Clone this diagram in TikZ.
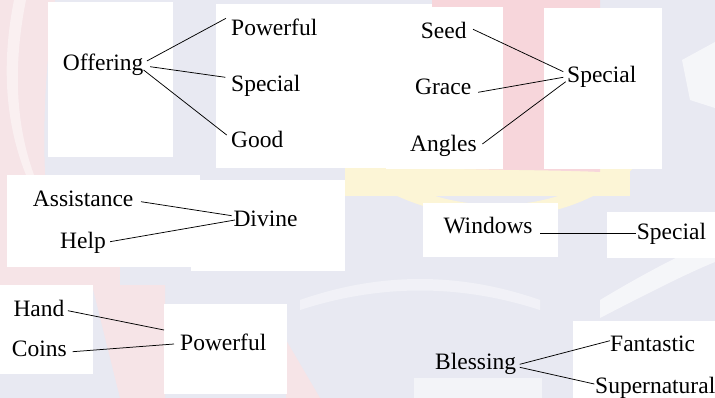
\documentclass[tikz,border=0pt]{standalone}
\usepackage{fontspec}
\setmainfont{Liberation Serif}
\definecolor{bgbase}{HTML}{E8E9F2}
\definecolor{wpink}{HTML}{F7D6DB}
\definecolor{wpinkl}{HTML}{F6E4E7}
\definecolor{wyellow}{HTML}{FCF5D6}
\begin{document}
\begin{tikzpicture}[x=1pt,y=-1pt,
  lbl/.style={inner sep=0pt, anchor=base west, font=\fontsize{23.5}{28}\selectfont},
  wbox/.style={fill=white, draw=none},
  link/.style={line width=0.75pt, black}]
\useasboundingbox (0,0) rectangle (715,398);
% ---- faint watermark background ----
\fill[bgbase] (0,0) rectangle (715,398);
\fill[wpinkl] (0,0) -- (55,0) .. controls (40,100) and (40,200) .. (60,300) -- (0,300) -- cycle;
\fill[white, opacity=0.45] (14,0) .. controls (2,60) and (4,120) .. (26,175) -- (34,175) .. controls (14,120) and (14,60) .. (26,0) -- cycle;
\fill[wpinkl] (0,265) rectangle (120,285);
\fill[wpinkl] (92,285) -- (165,285) -- (165,398) -- (120,398) -- cycle;
\fill[wpinkl] (286,340) -- (320,398) -- (286,398) -- cycle;
\fill[wyellow] (330,130) .. controls (420,230) and (580,230) .. (650,130) -- (650,150) .. controls (580,240) and (420,240) .. (330,150) -- cycle;
\fill[wyellow] (345,168) rectangle (630,196);
\fill[wpink] (432,0) -- (600,0) -- (600,172) .. controls (560,170) and (480,170) .. (432,168) -- cycle;
\fill[white, opacity=0.6] (600,300) .. controls (650,270) and (690,250) .. (715,240) -- (715,262) .. controls (690,272) and (650,292) .. (600,318) -- cycle;
\fill[white, opacity=0.6] (682,60) -- (715,42) -- (715,108) -- (690,100) -- cycle;
\fill[white, opacity=0.4] (300,300) .. controls (380,272) and (460,272) .. (540,300) -- (540,310) .. controls (460,284) and (380,284) .. (300,310) -- cycle;
% ---- white boxes ----
\fill[wbox] (48.3,2) rectangle (172.7,157);
\fill[wbox] (216,4) rectangle (432,167.7);
\fill[wbox] (386,7.3) rectangle (503.3,169.3);
\fill[wbox] (544,7.7) rectangle (662,169);
\fill[wbox] (6.7,175) rectangle (200,267.3);
\fill[wbox] (190.7,180) rectangle (345,270.7);
\fill[wbox] (0,285) rectangle (92.7,374.3);
\fill[wbox] (164,304) rectangle (286.7,394);
\fill[wbox] (422.7,202.7) rectangle (557.7,256.7);
\fill[wbox] (607.3,212) rectangle (715,258.3);
\fill[wbox] (572.7,320.7) rectangle (715,398);
\fill[white, opacity=0.5] (414,378) rectangle (541.7,398);
% ---- labels ----
\node[lbl] (off) at (62.7,71) {Offering};
\node[lbl] (pw1) at (231,36) {Powerful};
\node[lbl] (sp1) at (231,91.5) {Special};
\node[lbl] (gd) at (231,147.5) {Good};
\node[lbl] (seed) at (420.7,39) {Seed};
\node[lbl] (grace) at (415,94.3) {Grace};
\node[lbl] (angles) at (410,151.5) {Angles};
\node[lbl] (sp2) at (567,82.7) {Special};
\node[lbl] (assist) at (32.7,206.7) {Assistance};
\node[lbl] (help) at (60,248.5) {Help};
\node[lbl] (divine) at (233.3,226.7) {Divine};
\node[lbl] (win) at (443.3,234) {Windows};
\node[lbl] (sp3) at (636.7,239.5) {Special};
\node[lbl] (hand) at (13.3,316) {Hand};
\node[lbl] (coins) at (11.7,356.7) {Coins};
\node[lbl] (pw2) at (180,350.7) {Powerful};
\node[lbl] (bless) at (435,369) {Blessing};
\node[lbl] (fant) at (610,351) {Fantastic};
\node[lbl] (super) at (595,393.3) {Supernatural};
% ---- connectors ----
\draw[link] ([shift={(3.3,-10)}]off.base east) -- ([shift={(-5,-17.7)}]pw1.base west);
\draw[link] ([shift={(6.6,-4.3)}]off.base east) -- ([shift={(-5.7,-14.2)}]sp1.base west);
\draw[link] ([shift={(0,-1)}]off.base east) -- ([shift={(-4.3,-12.5)}]gd.base west);
\draw[link] ([shift={(6.3,-9.7)}]seed.base east) -- ([shift={(-3.7,-11)}]sp2.base west);
\draw[link] ([shift={(6.7,-2)}]grace.base east) -- ([shift={(-3.7,-5.4)}]sp2.base west);
\draw[link] ([shift={(5.4,-7.5)}]angles.base east) -- ([shift={(-1.3,-1)}]sp2.base west);
\draw[link] ([shift={(7.4,-5)}]assist.base east) -- ([shift={(-1.6,-11)}]divine.base west);
\draw[link] ([shift={(4,-6.8)}]help.base east) -- ([shift={(1.7,-6.7)}]divine.base west);
\draw[link] ([shift={(7.4,-0.7)}]win.base east) -- ([shift={(-0.7,-6.2)}]sp3.base west);
\draw[link] ([shift={(3.3,-5.3)}]hand.base east) -- ([shift={(-16,-20.7)}]pw2.base west);
\draw[link] ([shift={(5.7,-5)}]coins.base east) -- ([shift={(-6,-6.7)}]pw2.base west);
\draw[link] ([shift={(3.4,-4.7)}]bless.base east) -- ([shift={(0,-10.3)}]fant.base west);
\draw[link] ([shift={(3.4,-1.7)}]bless.base east) -- ([shift={(-0.7,-9.3)}]super.base west);
\end{tikzpicture}
\end{document}
